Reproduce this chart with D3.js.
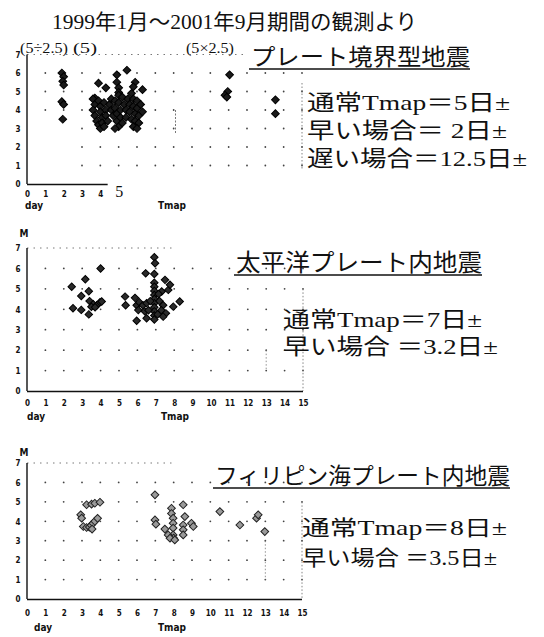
<!DOCTYPE html>
<html><head><meta charset="utf-8">
<script src="https://cdn.jsdelivr.net/npm/d3@7"></script>
<style>
body{margin:0;background:#fff;}
svg{display:block;}
.jp{font-family:"Liberation Serif","Noto Sans CJK JP",serif;fill:#111;}
.tk{font-family:"DejaVu Sans Condensed","DejaVu Sans",sans-serif;font-weight:bold;font-size:8px;fill:#111;}
.al{font-family:"DejaVu Sans Condensed","DejaVu Sans",sans-serif;font-weight:bold;font-size:10px;fill:#111;}
</style></head><body>
<script>
// ---- data ----
const mainTitle = "1999年1月～2001年9月期間の観測より";
const panelTitles = ["プレート境界型地震", "太平洋プレート内地震", "フィリピン海プレート内地震"];
const panel1Notes = ["通常Tmap＝5日±", "早い場合＝ 2日±", "遅い場合＝12.5日±"];
const panel2Notes = ["通常Tmap＝7日±", "早い場合 ＝3.2日±"];
const panel3Notes = ["通常Tmap＝8日±", "早い場合 ＝3.5日±"];
const panel1Marks = ["(5÷2.5)", "(5)", "(5×2.5)"];
const yTickValues = [0,1,2,3,4,5,6,7];
const xTickValues = [0,1,2,3,4,5,6,7,8,9,10,11,12,13,14,15];
const panel1XTicks = [0,1,2,3,4,5];

// Panel 1: plate-boundary earthquakes (Tmap day, magnitude)
const boundaryDays = [1.9,2.0,1.95,2.0,1.9,2.0,1.95,
 5.45,4.9,3.9,4.3,4.9,5.0,5.0,5.9,5.8,6.3,3.7,
 3.6,3.7,3.6,3.7,3.8,3.9,4.0,3.9,4.0,4.0,4.1,4.1,4.2,4.3,4.3,4.4,4.2,
 4.5,4.6,4.6,4.7,4.8,4.8,4.9,4.9,5.0,5.0,5.0,5.1,5.1,5.2,4.8,5.2,5.3,
 5.4,5.4,5.5,5.6,5.6,5.7,5.7,5.8,5.8,5.9,5.9,6.0,6.0,6.1,6.1,6.2,5.8,6.0,6.3,
 11.05,10.95,10.8,10.9,13.55,13.55];
const boundaryMags = [6.0,5.8,5.55,5.35,4.45,4.3,3.5,
 6.15,5.9,5.45,5.2,5.5,5.2,4.95,5.5,5.25,5.1,4.65,
 4.6,4.3,4.0,3.7,3.4,3.2,3.0,4.5,4.2,3.9,3.6,3.3,4.4,4.0,3.7,3.4,3.1,
 4.3,4.6,4.0,3.7,4.5,4.1,3.8,3.4,3.1,4.8,4.4,4.0,3.6,3.3,3.0,4.7,4.3,
 4.0,3.6,4.6,4.3,3.9,3.5,4.9,4.6,4.2,3.8,3.4,4.5,4.1,3.7,3.3,4.3,3.1,3.0,3.9,
 5.9,5.0,4.8,4.7,4.55,3.8];

// Panel 2: Pacific-plate intraslab earthquakes
const pacificDays = [4.0,3.17,2.43,3.36,2.95,3.4,3.6,3.8,3.97,3.5,4.06,2.5,2.95,3.36,3.7,
 6.92,6.96,6.45,6.92,7.5,5.33,5.36,5.87,5.96,6.05,
 6.92,6.92,6.92,6.92,6.92,6.92,6.92,6.92,6.92,6.92,
 7.32,7.68,7.77,7.15,6.1,6.3,6.5,6.7,6.4,6.6,7.2,7.4,7.3,7.55,7.1,8.3,7.95,5.96,6.5,7.4];
const pacificMags = [6.0,5.47,5.1,4.88,4.65,4.4,4.25,4.2,4.35,4.12,4.38,4.05,3.97,3.75,4.1,
 6.55,6.25,5.76,5.73,5.44,4.62,4.2,4.56,4.2,3.96,
 5.3,5.1,4.9,4.7,4.5,4.3,4.1,3.9,3.7,3.5,
 4.87,4.95,5.2,4.75,4.35,4.2,4.3,4.4,3.9,3.95,4.4,4.2,3.95,3.8,3.75,4.38,4.13,3.44,3.56,3.64];

// Panel 3: Philippine-Sea-plate intraslab earthquakes
const philippineDays = [3.25,3.52,3.7,3.98,2.93,2.98,3.07,3.25,3.4,3.5,3.6,3.7,3.85,3.55,
 6.98,6.98,7.03,7.52,7.88,7.88,7.97,7.97,7.97,7.97,8.0,7.7,7.8,8.06,8.52,8.61,8.52,8.52,8.52,8.97,9.07,
 10.52,11.61,12.52,12.61,12.97];
const philippineMags = [4.85,4.88,4.93,4.98,4.33,4.16,3.73,3.68,3.7,3.8,3.9,4.0,4.15,3.6,
 5.36,4.07,3.85,3.6,4.67,4.4,4.16,3.9,3.65,3.3,3.13,3.3,3.13,3.04,4.85,4.24,3.81,3.56,3.3,3.9,3.73,
 4.5,3.81,4.16,4.33,3.47];

// ---- drawing ----
const W = 544, H = 637;
const svg = d3.select("body").append("svg").attr("width", W).attr("height", H);

svg.append("text").attr("class","jp").attr("x",52).attr("y",29)
  .attr("font-size",21).attr("textLength",365).attr("lengthAdjust","spacingAndGlyphs")
  .text(mainTitle);

const panels = [
  {days: boundaryDays, mags: boundaryMags, x0:27, x1:302, y0:184, y7:54.5,
   fill:"#1a1a1a", stroke:"#000", ms:30, xTicks: panel1XTicks, axisEnd:4.4,
   tickY:197, labelY:209, dayX:34, tmapX:172, showM:false},
  {days: pacificDays, mags: pacificMags, x0:27, x1:303, y0:391, y7:248,
   fill:"#2a2a2a", stroke:"#000", ms:28, xTicks: xTickValues, axisEnd:15,
   tickY:406, labelY:420, dayX:36, tmapX:175, showM:true, mY:237},
  {days: philippineDays, mags: philippineMags, x0:27, x1:302, y0:599, y7:463,
   fill:"#9a9a9a", stroke:"#222", ms:30, xTicks: xTickValues, axisEnd:15,
   tickY:616, labelY:631, dayX:43, tmapX:172, showM:true, mY:456}
];

panels.forEach((p, i) => {
  const x = d3.scaleLinear().domain([0,15]).range([p.x0, p.x1]);
  const y = d3.scaleLinear().domain([0,7]).range([p.y0, p.y7]);
  const g = svg.append("g");

  // grid dots
  const grid = [];
  for (let d = 1; d <= 15; d++) for (let m = 1; m <= 6; m++) {
    if (i === 0 && d < 3 && m < 4) continue;
    grid.push([d, m]);
  }
  g.selectAll("circle.grid").data(grid).join("circle").attr("class","grid")
    .attr("cx", d => x(d[0])).attr("cy", d => y(d[1])).attr("r", 0.9).attr("fill","#444");

  // dotted top border and right border
  g.append("line").attr("x1", x(0)).attr("x2", i === 0 ? x(12) : x(8))
    .attr("y1", y(7)).attr("y2", y(7))
    .attr("stroke","#555").attr("stroke-width",0.8).attr("stroke-dasharray","1.5,5");
  if (i > 0) {
    g.append("line").attr("x1", x(15)).attr("x2", x(15)).attr("y1", y(5)).attr("y2", y(0))
      .attr("stroke","#666").attr("stroke-width",0.8).attr("stroke-dasharray","1.5,2");
    g.append("line").attr("x1", x(13)).attr("x2", x(13)).attr("y1", y(i===1?2:3)).attr("y2", y(1))
      .attr("stroke","#777").attr("stroke-width",0.8).attr("stroke-dasharray","1.5,2");
  } else {
    g.append("line").attr("x1", x(15)).attr("x2", x(15)).attr("y1", 83).attr("y2", 170)
      .attr("stroke","#666").attr("stroke-width",0.8).attr("stroke-dasharray","1.5,2");
    g.append("line").attr("x1", x(8.1)).attr("x2", x(8.1)).attr("y1", y(4)).attr("y2", y(2.7))
      .attr("stroke","#555").attr("stroke-width",0.8).attr("stroke-dasharray","2,1.5");
  }

  // axes lines
  g.append("line").attr("x1", x(0)).attr("x2", x(0)).attr("y1", y(7)).attr("y2", y(0))
    .attr("stroke","#111").attr("stroke-width",1.4);
  g.append("line").attr("x1", x(0)).attr("x2", x(p.axisEnd)).attr("y1", y(0)+0.5).attr("y2", y(0)+0.5)
    .attr("stroke","#111").attr("stroke-width",1.4);

  // y tick labels
  const yAxis = d3.axisLeft(y).tickValues(yTickValues).tickSize(0).tickPadding(0).tickFormat(d3.format("d"));
  const ya = g.append("g").attr("transform", `translate(${p.x0 - 9},0)`).call(yAxis);
  ya.select(".domain").remove();
  ya.selectAll("text").attr("class","tk").attr("font-size",null).attr("font-family",null)
    .attr("text-anchor","middle").attr("dy","0.35em");

  // x tick labels
  const xAxis = d3.axisBottom(x).tickValues(p.xTicks).tickSize(0).tickPadding(0).tickFormat(d3.format("d"));
  const xa = g.append("g").attr("transform", `translate(0,${p.tickY - 6})`).call(xAxis);
  xa.select(".domain").remove();
  xa.selectAll("text").attr("class","tk").attr("font-size",null).attr("font-family",null);
  if (i === 0) {
    xa.selectAll("text").filter(d => d === 5)
      .attr("class", null).attr("font-family","Liberation Serif,serif").attr("font-size",16)
      .attr("dy","0.35em").attr("fill","#111");
  }

  g.append("text").attr("class","al").attr("x", p.dayX).attr("y", p.labelY).attr("text-anchor","middle").text("day");
  g.append("text").attr("class","al").attr("x", p.tmapX).attr("y", p.labelY).attr("text-anchor","middle").text("Tmap");
  if (p.showM) g.append("text").attr("class","al").attr("x", 24).attr("y", p.mY).attr("font-size",9).attr("text-anchor","middle").text("M");

  // points
  const pts = p.days.map((d, k) => [d, p.mags[k]]);
  g.selectAll("path.pt").data(pts).join("path").attr("class","pt")
    .attr("d", d3.symbol().type(d3.symbolSquare).size(p.ms))
    .attr("transform", d => `translate(${x(d[0])},${y(d[1])}) rotate(45)`)
    .attr("fill", p.fill).attr("stroke", p.stroke).attr("stroke-width", 1);
});

// panel 1 bracket notes
const noteX = [20, 73, 186];
const noteLen = [48, 24, 48];
panel1Marks.forEach((t, k) => {
  svg.append("text").attr("class","jp").attr("x", noteX[k]).attr("y", 53)
    .attr("font-size",14).attr("textLength", noteLen[k]).attr("lengthAdjust","spacingAndGlyphs").text(t);
});

// panel titles (underlined)
const titleSpec = [
  {x:251, y:65, w:219, size:23},
  {x:236, y:271, w:246, size:24},
  {x:215, y:484, w:295, size:22.5}
];
titleSpec.forEach((s, k) => {
  svg.append("text").attr("class","jp").attr("x", s.x).attr("y", s.y)
    .attr("font-size", s.size).attr("textLength", s.w).attr("lengthAdjust","spacingAndGlyphs")
    .text(panelTitles[k]);
  svg.append("line").attr("x1", s.x - 2).attr("x2", s.x + s.w).attr("y1", s.y + 4).attr("y2", s.y + 4)
    .attr("stroke","#111").attr("stroke-width",1.6);
});

// note lines
const noteSpec = [
  {lines: panel1Notes, x:307, ys:[110,138,166], ws:[203,200,220], size:22},
  {lines: panel2Notes, x:283, ys:[327,354], ws:[199,215], size:22},
  {lines: panel3Notes, x:302, ys:[535,565], ws:[205,195], size:21}
];
noteSpec.forEach(s => {
  s.lines.forEach((t, k) => {
    svg.append("text").attr("class","jp").attr("x", s.x).attr("y", s.ys[k])
      .attr("font-size", s.size).attr("textLength", s.ws[k]).attr("lengthAdjust","spacingAndGlyphs").text(t);
  });
});
</script>
</body></html>
